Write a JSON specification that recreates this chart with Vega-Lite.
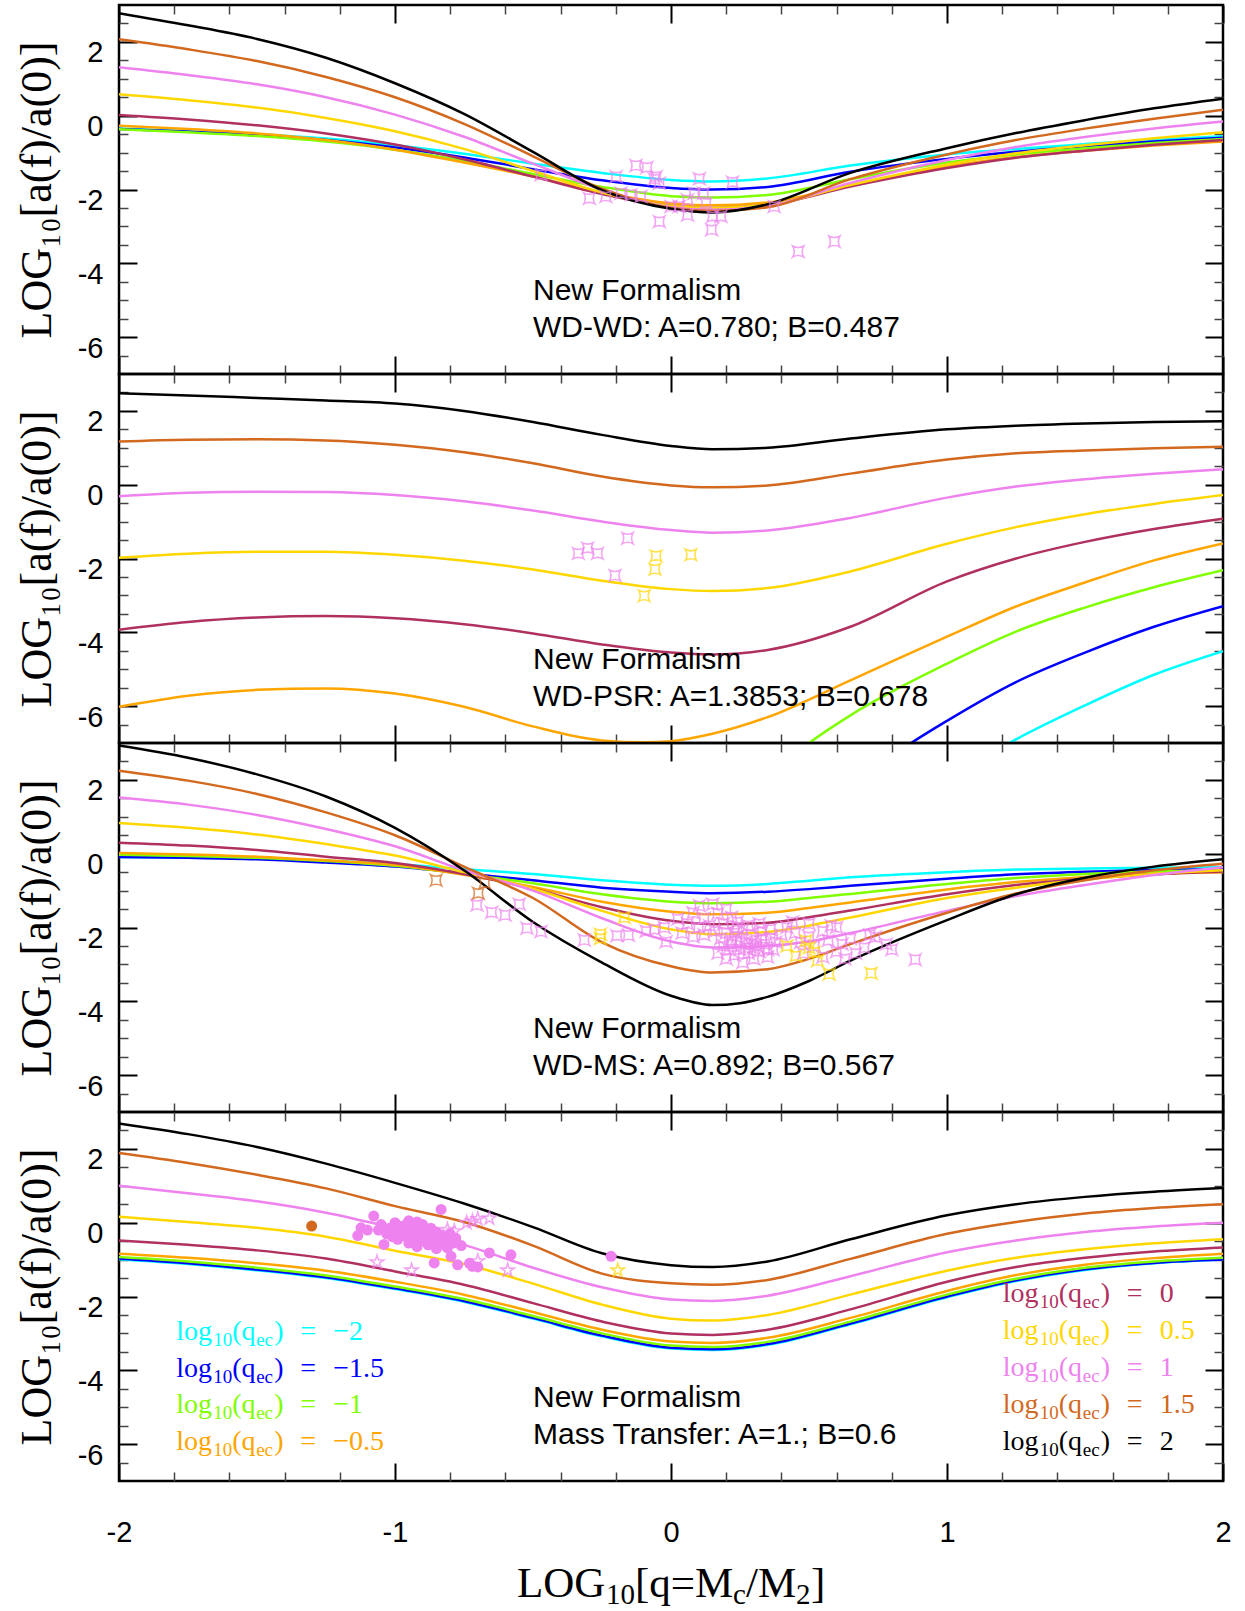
{
"$schema":"https://vega.github.io/schema/vega-lite/v6.json",
"padding":{"left":13,"top":2,"right":5,"bottom":0},
"background":"white",
"spacing":0,
"bounds":"flush",
"config":{"view":{"stroke":"black","strokeWidth":2.5},
"axis":{"grid":false,"domain":false,"labelFont":"Liberation Sans","labelFontSize":29,"labelColor":"black","tickColor":"black","titleFont":"Liberation Serif","titleFontSize":44,"titleFontWeight":"normal","titleColor":"black","labelFlush":false}},
"datasets":{
"frame":[{"x":-2,"y":-7},{"x":2,"y":3}],
"leg":[
{"k":"-2","v":"−2","lx":-1.793,"ly":-3.17},{"k":"-1.5","v":"−1.5","lx":-1.793,"ly":-4.17},{"k":"-1","v":"−1","lx":-1.793,"ly":-5.17},{"k":"-0.5","v":"−0.5","lx":-1.793,"ly":-6.17},
{"k":"0","v":"0","lx":1.202,"ly":-2.16},{"k":"0.5","v":"0.5","lx":1.202,"ly":-3.16},{"k":"1","v":"1","lx":1.202,"ly":-4.16},{"k":"1.5","v":"1.5","lx":1.202,"ly":-5.16},{"k":"2","v":"2","lx":1.202,"ly":-6.16}],
"curves":[
{"p":1,"k":"-2","x":-2,"y":-0.35},{"p":1,"k":"-2","x":-1.75,"y":-0.42},{"p":1,"k":"-2","x":-1.5,"y":-0.5},{"p":1,"k":"-2","x":-1.25,"y":-0.62},{"p":1,"k":"-2","x":-1,"y":-0.8},{"p":1,"k":"-2","x":-0.75,"y":-1.03},{"p":1,"k":"-2","x":-0.5,"y":-1.3},{"p":1,"k":"-2","x":-0.25,"y":-1.55},{"p":1,"k":"-2","x":0,"y":-1.74},{"p":1,"k":"-2","x":0.15,"y":-1.78},{"p":1,"k":"-2","x":0.35,"y":-1.7},{"p":1,"k":"-2","x":0.65,"y":-1.35},{"p":1,"k":"-2","x":1,"y":-1.05},{"p":1,"k":"-2","x":1.25,"y":-0.9},{"p":1,"k":"-2","x":1.5,"y":-0.77},{"p":1,"k":"-2","x":1.75,"y":-0.65},{"p":1,"k":"-2","x":2,"y":-0.56},
{"p":1,"k":"-1.5","x":-2,"y":-0.36},{"p":1,"k":"-1.5","x":-1.75,"y":-0.43},{"p":1,"k":"-1.5","x":-1.5,"y":-0.52},{"p":1,"k":"-1.5","x":-1.25,"y":-0.66},{"p":1,"k":"-1.5","x":-1,"y":-0.86},{"p":1,"k":"-1.5","x":-0.75,"y":-1.13},{"p":1,"k":"-1.5","x":-0.5,"y":-1.45},{"p":1,"k":"-1.5","x":-0.25,"y":-1.75},{"p":1,"k":"-1.5","x":0,"y":-1.96},{"p":1,"k":"-1.5","x":0.15,"y":-2.0},{"p":1,"k":"-1.5","x":0.35,"y":-1.93},{"p":1,"k":"-1.5","x":0.65,"y":-1.52},{"p":1,"k":"-1.5","x":1,"y":-1.17},{"p":1,"k":"-1.5","x":1.25,"y":-0.98},{"p":1,"k":"-1.5","x":1.5,"y":-0.83},{"p":1,"k":"-1.5","x":1.75,"y":-0.7},{"p":1,"k":"-1.5","x":2,"y":-0.6},
{"p":1,"k":"-1","x":-2,"y":-0.37},{"p":1,"k":"-1","x":-1.75,"y":-0.45},{"p":1,"k":"-1","x":-1.5,"y":-0.55},{"p":1,"k":"-1","x":-1.25,"y":-0.7},{"p":1,"k":"-1","x":-1,"y":-0.92},{"p":1,"k":"-1","x":-0.75,"y":-1.22},{"p":1,"k":"-1","x":-0.5,"y":-1.58},{"p":1,"k":"-1","x":-0.25,"y":-1.93},{"p":1,"k":"-1","x":0,"y":-2.18},{"p":1,"k":"-1","x":0.15,"y":-2.22},{"p":1,"k":"-1","x":0.35,"y":-2.15},{"p":1,"k":"-1","x":0.65,"y":-1.72},{"p":1,"k":"-1","x":1,"y":-1.27},{"p":1,"k":"-1","x":1.25,"y":-1.05},{"p":1,"k":"-1","x":1.5,"y":-0.88},{"p":1,"k":"-1","x":1.75,"y":-0.74},{"p":1,"k":"-1","x":2,"y":-0.63},
{"p":1,"k":"-0.5","x":-2,"y":-0.27},{"p":1,"k":"-0.5","x":-1.75,"y":-0.36},{"p":1,"k":"-0.5","x":-1.5,"y":-0.48},{"p":1,"k":"-0.5","x":-1.25,"y":-0.66},{"p":1,"k":"-0.5","x":-1,"y":-0.92},{"p":1,"k":"-0.5","x":-0.75,"y":-1.27},{"p":1,"k":"-0.5","x":-0.5,"y":-1.65},{"p":1,"k":"-0.5","x":-0.25,"y":-2.08},{"p":1,"k":"-0.5","x":0,"y":-2.38},{"p":1,"k":"-0.5","x":0.15,"y":-2.43},{"p":1,"k":"-0.5","x":0.35,"y":-2.35},{"p":1,"k":"-0.5","x":0.65,"y":-1.88},{"p":1,"k":"-0.5","x":1,"y":-1.38},{"p":1,"k":"-0.5","x":1.25,"y":-1.12},{"p":1,"k":"-0.5","x":1.5,"y":-0.95},{"p":1,"k":"-0.5","x":1.75,"y":-0.81},{"p":1,"k":"-0.5","x":2,"y":-0.7},
{"p":1,"k":"0","x":-2,"y":0.02},{"p":1,"k":"0","x":-1.75,"y":-0.1},{"p":1,"k":"0","x":-1.5,"y":-0.26},{"p":1,"k":"0","x":-1.25,"y":-0.48},{"p":1,"k":"0","x":-1,"y":-0.78},{"p":1,"k":"0","x":-0.75,"y":-1.18},{"p":1,"k":"0","x":-0.5,"y":-1.65},{"p":1,"k":"0","x":-0.25,"y":-2.12},{"p":1,"k":"0","x":0,"y":-2.45},{"p":1,"k":"0","x":0.15,"y":-2.5},{"p":1,"k":"0","x":0.35,"y":-2.42},{"p":1,"k":"0","x":0.65,"y":-1.92},{"p":1,"k":"0","x":1,"y":-1.42},{"p":1,"k":"0","x":1.25,"y":-1.14},{"p":1,"k":"0","x":1.5,"y":-0.95},{"p":1,"k":"0","x":1.75,"y":-0.79},{"p":1,"k":"0","x":2,"y":-0.66},
{"p":1,"k":"0.5","x":-2,"y":0.58},{"p":1,"k":"0.5","x":-1.75,"y":0.42},{"p":1,"k":"0.5","x":-1.5,"y":0.22},{"p":1,"k":"0.5","x":-1.25,"y":-0.06},{"p":1,"k":"0.5","x":-1,"y":-0.42},{"p":1,"k":"0.5","x":-0.75,"y":-0.9},{"p":1,"k":"0.5","x":-0.5,"y":-1.5},{"p":1,"k":"0.5","x":-0.25,"y":-2.08},{"p":1,"k":"0.5","x":0,"y":-2.45},{"p":1,"k":"0.5","x":0.15,"y":-2.5},{"p":1,"k":"0.5","x":0.35,"y":-2.42},{"p":1,"k":"0.5","x":0.65,"y":-1.88},{"p":1,"k":"0.5","x":1,"y":-1.33},{"p":1,"k":"0.5","x":1.25,"y":-1.02},{"p":1,"k":"0.5","x":1.5,"y":-0.8},{"p":1,"k":"0.5","x":1.75,"y":-0.61},{"p":1,"k":"0.5","x":2,"y":-0.45},
{"p":1,"k":"1","x":-2,"y":1.31},{"p":1,"k":"1","x":-1.75,"y":1.1},{"p":1,"k":"1","x":-1.5,"y":0.85},{"p":1,"k":"1","x":-1.25,"y":0.5},{"p":1,"k":"1","x":-1,"y":0.03},{"p":1,"k":"1","x":-0.75,"y":-0.57},{"p":1,"k":"1","x":-0.5,"y":-1.3},{"p":1,"k":"1","x":-0.25,"y":-2.0},{"p":1,"k":"1","x":0,"y":-2.48},{"p":1,"k":"1","x":0.15,"y":-2.55},{"p":1,"k":"1","x":0.35,"y":-2.45},{"p":1,"k":"1","x":0.65,"y":-1.82},{"p":1,"k":"1","x":1,"y":-1.2},{"p":1,"k":"1","x":1.25,"y":-0.85},{"p":1,"k":"1","x":1.5,"y":-0.58},{"p":1,"k":"1","x":1.75,"y":-0.35},{"p":1,"k":"1","x":2,"y":-0.16},
{"p":1,"k":"1.5","x":-2,"y":2.07},{"p":1,"k":"1.5","x":-1.75,"y":1.8},{"p":1,"k":"1.5","x":-1.5,"y":1.48},{"p":1,"k":"1.5","x":-1.25,"y":1.05},{"p":1,"k":"1.5","x":-1,"y":0.5},{"p":1,"k":"1.5","x":-0.75,"y":-0.22},{"p":1,"k":"1.5","x":-0.5,"y":-1.1},{"p":1,"k":"1.5","x":-0.25,"y":-1.98},{"p":1,"k":"1.5","x":0,"y":-2.5},{"p":1,"k":"1.5","x":0.15,"y":-2.58},{"p":1,"k":"1.5","x":0.35,"y":-2.48},{"p":1,"k":"1.5","x":0.65,"y":-1.72},{"p":1,"k":"1.5","x":1,"y":-1.05},{"p":1,"k":"1.5","x":1.25,"y":-0.66},{"p":1,"k":"1.5","x":1.5,"y":-0.35},{"p":1,"k":"1.5","x":1.75,"y":-0.08},{"p":1,"k":"1.5","x":2,"y":0.16},
{"p":1,"k":"2","x":-2,"y":2.78},{"p":1,"k":"2","x":-1.75,"y":2.45},{"p":1,"k":"2","x":-1.5,"y":2.08},{"p":1,"k":"2","x":-1.25,"y":1.57},{"p":1,"k":"2","x":-1,"y":0.88},{"p":1,"k":"2","x":-0.75,"y":0.05},{"p":1,"k":"2","x":-0.5,"y":-0.98},{"p":1,"k":"2","x":-0.25,"y":-2.02},{"p":1,"k":"2","x":0,"y":-2.52},{"p":1,"k":"2","x":0.15,"y":-2.62},{"p":1,"k":"2","x":0.35,"y":-2.4},{"p":1,"k":"2","x":0.65,"y":-1.55},{"p":1,"k":"2","x":1,"y":-0.88},{"p":1,"k":"2","x":1.25,"y":-0.47},{"p":1,"k":"2","x":1.5,"y":-0.12},{"p":1,"k":"2","x":1.75,"y":0.2},{"p":1,"k":"2","x":2,"y":0.46},

{"p":2,"k":"-2","x":1,"y":-8.0},{"p":2,"k":"-2","x":1.25,"y":-6.9},{"p":2,"k":"-2","x":1.5,"y":-5.98},{"p":2,"k":"-2","x":1.75,"y":-5.15},{"p":2,"k":"-2","x":2,"y":-4.51},
{"p":2,"k":"-1.5","x":0.65,"y":-8.2},{"p":2,"k":"-1.5","x":0.85,"y":-7.1},{"p":2,"k":"-1.5","x":1,"y":-6.4},{"p":2,"k":"-1.5","x":1.25,"y":-5.35},{"p":2,"k":"-1.5","x":1.5,"y":-4.55},{"p":2,"k":"-1.5","x":1.75,"y":-3.85},{"p":2,"k":"-1.5","x":2,"y":-3.29},
{"p":2,"k":"-1","x":0.35,"y":-7.9},{"p":2,"k":"-1","x":0.5,"y":-7.0},{"p":2,"k":"-1","x":0.65,"y":-6.25},{"p":2,"k":"-1","x":1,"y":-4.85},{"p":2,"k":"-1","x":1.25,"y":-3.98},{"p":2,"k":"-1","x":1.5,"y":-3.33},{"p":2,"k":"-1","x":1.75,"y":-2.78},{"p":2,"k":"-1","x":2,"y":-2.32},
{"p":2,"k":"-0.5","x":-2,"y":-6.02},{"p":2,"k":"-0.5","x":-1.75,"y":-5.72},{"p":2,"k":"-0.5","x":-1.5,"y":-5.56},{"p":2,"k":"-0.5","x":-1.25,"y":-5.52},{"p":2,"k":"-0.5","x":-1,"y":-5.66},{"p":2,"k":"-0.5","x":-0.75,"y":-6.02},{"p":2,"k":"-0.5","x":-0.5,"y":-6.55},{"p":2,"k":"-0.5","x":-0.25,"y":-6.93},{"p":2,"k":"-0.5","x":-0.1,"y":-6.98},{"p":2,"k":"-0.5","x":0,"y":-6.95},{"p":2,"k":"-0.5","x":0.15,"y":-6.75},{"p":2,"k":"-0.5","x":0.35,"y":-6.3},{"p":2,"k":"-0.5","x":0.65,"y":-5.3},{"p":2,"k":"-0.5","x":1,"y":-4.12},{"p":2,"k":"-0.5","x":1.25,"y":-3.3},{"p":2,"k":"-0.5","x":1.5,"y":-2.65},{"p":2,"k":"-0.5","x":1.75,"y":-2.05},{"p":2,"k":"-0.5","x":2,"y":-1.59},
{"p":2,"k":"0","x":-2,"y":-3.93},{"p":2,"k":"0","x":-1.75,"y":-3.72},{"p":2,"k":"0","x":-1.5,"y":-3.6},{"p":2,"k":"0","x":-1.25,"y":-3.56},{"p":2,"k":"0","x":-1,"y":-3.62},{"p":2,"k":"0","x":-0.75,"y":-3.78},{"p":2,"k":"0","x":-0.5,"y":-4.03},{"p":2,"k":"0","x":-0.25,"y":-4.33},{"p":2,"k":"0","x":0,"y":-4.55},{"p":2,"k":"0","x":0.15,"y":-4.6},{"p":2,"k":"0","x":0.35,"y":-4.48},{"p":2,"k":"0","x":0.65,"y":-3.85},{"p":2,"k":"0","x":1,"y":-2.62},{"p":2,"k":"0","x":1.25,"y":-2.0},{"p":2,"k":"0","x":1.5,"y":-1.55},{"p":2,"k":"0","x":1.75,"y":-1.2},{"p":2,"k":"0","x":2,"y":-0.92},
{"p":2,"k":"0.5","x":-2,"y":-1.98},{"p":2,"k":"0.5","x":-1.75,"y":-1.87},{"p":2,"k":"0.5","x":-1.5,"y":-1.82},{"p":2,"k":"0.5","x":-1.25,"y":-1.82},{"p":2,"k":"0.5","x":-1,"y":-1.9},{"p":2,"k":"0.5","x":-0.75,"y":-2.06},{"p":2,"k":"0.5","x":-0.5,"y":-2.3},{"p":2,"k":"0.5","x":-0.25,"y":-2.6},{"p":2,"k":"0.5","x":0,"y":-2.83},{"p":2,"k":"0.5","x":0.15,"y":-2.88},{"p":2,"k":"0.5","x":0.35,"y":-2.8},{"p":2,"k":"0.5","x":0.65,"y":-2.35},{"p":2,"k":"0.5","x":1,"y":-1.6},{"p":2,"k":"0.5","x":1.25,"y":-1.15},{"p":2,"k":"0.5","x":1.5,"y":-0.8},{"p":2,"k":"0.5","x":1.75,"y":-0.52},{"p":2,"k":"0.5","x":2,"y":-0.28},
{"p":2,"k":"1","x":-2,"y":-0.31},{"p":2,"k":"1","x":-1.75,"y":-0.22},{"p":2,"k":"1","x":-1.5,"y":-0.19},{"p":2,"k":"1","x":-1.25,"y":-0.2},{"p":2,"k":"1","x":-1,"y":-0.28},{"p":2,"k":"1","x":-0.75,"y":-0.45},{"p":2,"k":"1","x":-0.5,"y":-0.7},{"p":2,"k":"1","x":-0.25,"y":-1.0},{"p":2,"k":"1","x":0,"y":-1.23},{"p":2,"k":"1","x":0.15,"y":-1.3},{"p":2,"k":"1","x":0.35,"y":-1.24},{"p":2,"k":"1","x":0.65,"y":-0.9},{"p":2,"k":"1","x":1,"y":-0.35},{"p":2,"k":"1","x":1.25,"y":-0.05},{"p":2,"k":"1","x":1.5,"y":0.15},{"p":2,"k":"1","x":1.75,"y":0.3},{"p":2,"k":"1","x":2,"y":0.42},
{"p":2,"k":"1.5","x":-2,"y":1.17},{"p":2,"k":"1.5","x":-1.75,"y":1.22},{"p":2,"k":"1.5","x":-1.5,"y":1.23},{"p":2,"k":"1.5","x":-1.25,"y":1.2},{"p":2,"k":"1.5","x":-1,"y":1.08},{"p":2,"k":"1.5","x":-0.75,"y":0.88},{"p":2,"k":"1.5","x":-0.5,"y":0.58},{"p":2,"k":"1.5","x":-0.25,"y":0.22},{"p":2,"k":"1.5","x":0,"y":-0.02},{"p":2,"k":"1.5","x":0.15,"y":-0.07},{"p":2,"k":"1.5","x":0.35,"y":-0.02},{"p":2,"k":"1.5","x":0.65,"y":0.3},{"p":2,"k":"1.5","x":1,"y":0.68},{"p":2,"k":"1.5","x":1.25,"y":0.85},{"p":2,"k":"1.5","x":1.5,"y":0.93},{"p":2,"k":"1.5","x":1.75,"y":0.99},{"p":2,"k":"1.5","x":2,"y":1.03},
{"p":2,"k":"2","x":-2,"y":2.48},{"p":2,"k":"2","x":-1.75,"y":2.42},{"p":2,"k":"2","x":-1.5,"y":2.35},{"p":2,"k":"2","x":-1.25,"y":2.28},{"p":2,"k":"2","x":-1,"y":2.2},{"p":2,"k":"2","x":-0.75,"y":2.0},{"p":2,"k":"2","x":-0.5,"y":1.7},{"p":2,"k":"2","x":-0.25,"y":1.35},{"p":2,"k":"2","x":0,"y":1.05},{"p":2,"k":"2","x":0.15,"y":0.96},{"p":2,"k":"2","x":0.35,"y":1.0},{"p":2,"k":"2","x":0.65,"y":1.25},{"p":2,"k":"2","x":1,"y":1.5},{"p":2,"k":"2","x":1.25,"y":1.6},{"p":2,"k":"2","x":1.5,"y":1.66},{"p":2,"k":"2","x":1.75,"y":1.7},{"p":2,"k":"2","x":2,"y":1.72},

{"p":3,"k":"-2","x":-2,"y":-0.09},{"p":3,"k":"-2","x":-1.75,"y":-0.1},{"p":3,"k":"-2","x":-1.5,"y":-0.13},{"p":3,"k":"-2","x":-1.25,"y":-0.19},{"p":3,"k":"-2","x":-1,"y":-0.28},{"p":3,"k":"-2","x":-0.75,"y":-0.42},{"p":3,"k":"-2","x":-0.5,"y":-0.55},{"p":3,"k":"-2","x":-0.25,"y":-0.72},{"p":3,"k":"-2","x":0,"y":-0.84},{"p":3,"k":"-2","x":0.15,"y":-0.87},{"p":3,"k":"-2","x":0.35,"y":-0.82},{"p":3,"k":"-2","x":0.5,"y":-0.73},{"p":3,"k":"-2","x":0.65,"y":-0.64},{"p":3,"k":"-2","x":1,"y":-0.5},{"p":3,"k":"-2","x":1.25,"y":-0.43},{"p":3,"k":"-2","x":1.5,"y":-0.4},{"p":3,"k":"-2","x":1.75,"y":-0.38},{"p":3,"k":"-2","x":2,"y":-0.37},
{"p":3,"k":"-1.5","x":-2,"y":-0.09},{"p":3,"k":"-1.5","x":-1.75,"y":-0.11},{"p":3,"k":"-1.5","x":-1.5,"y":-0.15},{"p":3,"k":"-1.5","x":-1.25,"y":-0.24},{"p":3,"k":"-1.5","x":-1,"y":-0.35},{"p":3,"k":"-1.5","x":-0.75,"y":-0.53},{"p":3,"k":"-1.5","x":-0.5,"y":-0.72},{"p":3,"k":"-1.5","x":-0.25,"y":-0.92},{"p":3,"k":"-1.5","x":0,"y":-1.03},{"p":3,"k":"-1.5","x":0.15,"y":-1.07},{"p":3,"k":"-1.5","x":0.35,"y":-1.03},{"p":3,"k":"-1.5","x":0.5,"y":-0.96},{"p":3,"k":"-1.5","x":0.65,"y":-0.87},{"p":3,"k":"-1.5","x":1,"y":-0.68},{"p":3,"k":"-1.5","x":1.25,"y":-0.56},{"p":3,"k":"-1.5","x":1.5,"y":-0.49},{"p":3,"k":"-1.5","x":1.75,"y":-0.44},{"p":3,"k":"-1.5","x":2,"y":-0.42},
{"p":3,"k":"-1","x":-2,"y":-0.03},{"p":3,"k":"-1","x":-1.75,"y":-0.06},{"p":3,"k":"-1","x":-1.5,"y":-0.11},{"p":3,"k":"-1","x":-1.25,"y":-0.2},{"p":3,"k":"-1","x":-1,"y":-0.33},{"p":3,"k":"-1","x":-0.75,"y":-0.55},{"p":3,"k":"-1","x":-0.5,"y":-0.8},{"p":3,"k":"-1","x":-0.25,"y":-1.1},{"p":3,"k":"-1","x":0,"y":-1.3},{"p":3,"k":"-1","x":0.15,"y":-1.34},{"p":3,"k":"-1","x":0.35,"y":-1.3},{"p":3,"k":"-1","x":0.5,"y":-1.2},{"p":3,"k":"-1","x":0.65,"y":-1.09},{"p":3,"k":"-1","x":1,"y":-0.82},{"p":3,"k":"-1","x":1.25,"y":-0.66},{"p":3,"k":"-1","x":1.5,"y":-0.55},{"p":3,"k":"-1","x":1.75,"y":-0.48},{"p":3,"k":"-1","x":2,"y":-0.45},
{"p":3,"k":"-0.5","x":-2,"y":0.02},{"p":3,"k":"-0.5","x":-1.75,"y":-0.02},{"p":3,"k":"-0.5","x":-1.5,"y":-0.08},{"p":3,"k":"-0.5","x":-1.25,"y":-0.18},{"p":3,"k":"-0.5","x":-1,"y":-0.3},{"p":3,"k":"-0.5","x":-0.75,"y":-0.57},{"p":3,"k":"-0.5","x":-0.5,"y":-0.9},{"p":3,"k":"-0.5","x":-0.25,"y":-1.3},{"p":3,"k":"-0.5","x":0,"y":-1.57},{"p":3,"k":"-0.5","x":0.15,"y":-1.64},{"p":3,"k":"-0.5","x":0.35,"y":-1.6},{"p":3,"k":"-0.5","x":0.5,"y":-1.47},{"p":3,"k":"-0.5","x":0.65,"y":-1.32},{"p":3,"k":"-0.5","x":1,"y":-0.97},{"p":3,"k":"-0.5","x":1.25,"y":-0.77},{"p":3,"k":"-0.5","x":1.5,"y":-0.63},{"p":3,"k":"-0.5","x":1.75,"y":-0.54},{"p":3,"k":"-0.5","x":2,"y":-0.5},
{"p":3,"k":"0","x":-2,"y":0.3},{"p":3,"k":"0","x":-1.75,"y":0.22},{"p":3,"k":"0","x":-1.5,"y":0.1},{"p":3,"k":"0","x":-1.25,"y":-0.08},{"p":3,"k":"0","x":-1,"y":-0.25},{"p":3,"k":"0","x":-0.75,"y":-0.55},{"p":3,"k":"0","x":-0.5,"y":-0.95},{"p":3,"k":"0","x":-0.25,"y":-1.45},{"p":3,"k":"0","x":0,"y":-1.82},{"p":3,"k":"0","x":0.15,"y":-1.91},{"p":3,"k":"0","x":0.35,"y":-1.87},{"p":3,"k":"0","x":0.5,"y":-1.72},{"p":3,"k":"0","x":0.65,"y":-1.54},{"p":3,"k":"0","x":1,"y":-1.1},{"p":3,"k":"0","x":1.25,"y":-0.85},{"p":3,"k":"0","x":1.5,"y":-0.68},{"p":3,"k":"0","x":1.75,"y":-0.56},{"p":3,"k":"0","x":2,"y":-0.48},
{"p":3,"k":"0.5","x":-2,"y":0.83},{"p":3,"k":"0.5","x":-1.75,"y":0.7},{"p":3,"k":"0.5","x":-1.5,"y":0.52},{"p":3,"k":"0.5","x":-1.25,"y":0.26},{"p":3,"k":"0.5","x":-1,"y":-0.05},{"p":3,"k":"0.5","x":-0.75,"y":-0.5},{"p":3,"k":"0.5","x":-0.5,"y":-0.95},{"p":3,"k":"0.5","x":-0.25,"y":-1.55},{"p":3,"k":"0.5","x":0,"y":-2.05},{"p":3,"k":"0.5","x":0.15,"y":-2.18},{"p":3,"k":"0.5","x":0.35,"y":-2.12},{"p":3,"k":"0.5","x":0.5,"y":-1.95},{"p":3,"k":"0.5","x":0.65,"y":-1.73},{"p":3,"k":"0.5","x":1,"y":-1.2},{"p":3,"k":"0.5","x":1.25,"y":-0.92},{"p":3,"k":"0.5","x":1.5,"y":-0.7},{"p":3,"k":"0.5","x":1.75,"y":-0.55},{"p":3,"k":"0.5","x":2,"y":-0.45},
{"p":3,"k":"1","x":-2,"y":1.52},{"p":3,"k":"1","x":-1.75,"y":1.33},{"p":3,"k":"1","x":-1.5,"y":1.05},{"p":3,"k":"1","x":-1.25,"y":0.67},{"p":3,"k":"1","x":-1,"y":0.2},{"p":3,"k":"1","x":-0.75,"y":-0.45},{"p":3,"k":"1","x":-0.5,"y":-1.0},{"p":3,"k":"1","x":-0.25,"y":-1.75},{"p":3,"k":"1","x":0,"y":-2.38},{"p":3,"k":"1","x":0.15,"y":-2.54},{"p":3,"k":"1","x":0.35,"y":-2.5},{"p":3,"k":"1","x":0.5,"y":-2.38},{"p":3,"k":"1","x":0.65,"y":-2.15},{"p":3,"k":"1","x":1,"y":-1.55},{"p":3,"k":"1","x":1.25,"y":-1.15},{"p":3,"k":"1","x":1.5,"y":-0.85},{"p":3,"k":"1","x":1.75,"y":-0.58},{"p":3,"k":"1","x":2,"y":-0.37},
{"p":3,"k":"1.5","x":-2,"y":2.25},{"p":3,"k":"1.5","x":-1.75,"y":1.98},{"p":3,"k":"1.5","x":-1.5,"y":1.62},{"p":3,"k":"1.5","x":-1.25,"y":1.12},{"p":3,"k":"1.5","x":-1,"y":0.5},{"p":3,"k":"1.5","x":-0.75,"y":-0.35},{"p":3,"k":"1.5","x":-0.5,"y":-1.2},{"p":3,"k":"1.5","x":-0.25,"y":-2.4},{"p":3,"k":"1.5","x":0,"y":-3.05},{"p":3,"k":"1.5","x":0.15,"y":-3.22},{"p":3,"k":"1.5","x":0.35,"y":-3.13},{"p":3,"k":"1.5","x":0.5,"y":-2.85},{"p":3,"k":"1.5","x":0.65,"y":-2.45},{"p":3,"k":"1.5","x":1,"y":-1.6},{"p":3,"k":"1.5","x":1.25,"y":-1.08},{"p":3,"k":"1.5","x":1.5,"y":-0.72},{"p":3,"k":"1.5","x":1.75,"y":-0.45},{"p":3,"k":"1.5","x":2,"y":-0.27},
{"p":3,"k":"2","x":-2,"y":2.93},{"p":3,"k":"2","x":-1.75,"y":2.6},{"p":3,"k":"2","x":-1.5,"y":2.15},{"p":3,"k":"2","x":-1.25,"y":1.55},{"p":3,"k":"2","x":-1,"y":0.7},{"p":3,"k":"2","x":-0.75,"y":-0.45},{"p":3,"k":"2","x":-0.5,"y":-1.85},{"p":3,"k":"2","x":-0.25,"y":-2.95},{"p":3,"k":"2","x":0,"y":-3.85},{"p":3,"k":"2","x":0.15,"y":-4.1},{"p":3,"k":"2","x":0.25,"y":-4.05},{"p":3,"k":"2","x":0.35,"y":-3.88},{"p":3,"k":"2","x":0.5,"y":-3.45},{"p":3,"k":"2","x":0.65,"y":-2.9},{"p":3,"k":"2","x":1,"y":-1.8},{"p":3,"k":"2","x":1.25,"y":-1.1},{"p":3,"k":"2","x":1.5,"y":-0.65},{"p":3,"k":"2","x":1.75,"y":-0.35},{"p":3,"k":"2","x":2,"y":-0.15},

{"p":4,"k":"-2","x":-2,"y":-0.99},{"p":4,"k":"-2","x":-1.75,"y":-1.12},{"p":4,"k":"-2","x":-1.5,"y":-1.29},{"p":4,"k":"-2","x":-1.25,"y":-1.5},{"p":4,"k":"-2","x":-1,"y":-1.8},{"p":4,"k":"-2","x":-0.75,"y":-2.14},{"p":4,"k":"-2","x":-0.5,"y":-2.6},{"p":4,"k":"-2","x":-0.25,"y":-3.08},{"p":4,"k":"-2","x":0,"y":-3.41},{"p":4,"k":"-2","x":0.15,"y":-3.45},{"p":4,"k":"-2","x":0.35,"y":-3.31},{"p":4,"k":"-2","x":0.65,"y":-2.75},{"p":4,"k":"-2","x":1,"y":-2.02},{"p":4,"k":"-2","x":1.25,"y":-1.58},{"p":4,"k":"-2","x":1.5,"y":-1.28},{"p":4,"k":"-2","x":1.75,"y":-1.1},{"p":4,"k":"-2","x":2,"y":-1.0},
{"p":4,"k":"-1.5","x":-2,"y":-0.97},{"p":4,"k":"-1.5","x":-1.75,"y":-1.1},{"p":4,"k":"-1.5","x":-1.5,"y":-1.27},{"p":4,"k":"-1.5","x":-1.25,"y":-1.48},{"p":4,"k":"-1.5","x":-1,"y":-1.78},{"p":4,"k":"-1.5","x":-0.75,"y":-2.12},{"p":4,"k":"-1.5","x":-0.5,"y":-2.58},{"p":4,"k":"-1.5","x":-0.25,"y":-3.06},{"p":4,"k":"-1.5","x":0,"y":-3.39},{"p":4,"k":"-1.5","x":0.15,"y":-3.43},{"p":4,"k":"-1.5","x":0.35,"y":-3.29},{"p":4,"k":"-1.5","x":0.65,"y":-2.73},{"p":4,"k":"-1.5","x":1,"y":-2.0},{"p":4,"k":"-1.5","x":1.25,"y":-1.56},{"p":4,"k":"-1.5","x":1.5,"y":-1.26},{"p":4,"k":"-1.5","x":1.75,"y":-1.09},{"p":4,"k":"-1.5","x":2,"y":-1.0},
{"p":4,"k":"-1","x":-2,"y":-0.93},{"p":4,"k":"-1","x":-1.75,"y":-1.05},{"p":4,"k":"-1","x":-1.5,"y":-1.22},{"p":4,"k":"-1","x":-1.25,"y":-1.43},{"p":4,"k":"-1","x":-1,"y":-1.73},{"p":4,"k":"-1","x":-0.75,"y":-2.07},{"p":4,"k":"-1","x":-0.5,"y":-2.53},{"p":4,"k":"-1","x":-0.25,"y":-3.0},{"p":4,"k":"-1","x":0,"y":-3.33},{"p":4,"k":"-1","x":0.15,"y":-3.37},{"p":4,"k":"-1","x":0.35,"y":-3.23},{"p":4,"k":"-1","x":0.65,"y":-2.68},{"p":4,"k":"-1","x":1,"y":-1.95},{"p":4,"k":"-1","x":1.25,"y":-1.52},{"p":4,"k":"-1","x":1.5,"y":-1.22},{"p":4,"k":"-1","x":1.75,"y":-1.05},{"p":4,"k":"-1","x":2,"y":-0.95},
{"p":4,"k":"-0.5","x":-2,"y":-0.84},{"p":4,"k":"-0.5","x":-1.75,"y":-0.95},{"p":4,"k":"-0.5","x":-1.5,"y":-1.1},{"p":4,"k":"-0.5","x":-1.25,"y":-1.3},{"p":4,"k":"-0.5","x":-1,"y":-1.6},{"p":4,"k":"-0.5","x":-0.75,"y":-1.95},{"p":4,"k":"-0.5","x":-0.5,"y":-2.42},{"p":4,"k":"-0.5","x":-0.25,"y":-2.9},{"p":4,"k":"-0.5","x":0,"y":-3.22},{"p":4,"k":"-0.5","x":0.15,"y":-3.26},{"p":4,"k":"-0.5","x":0.35,"y":-3.12},{"p":4,"k":"-0.5","x":0.65,"y":-2.58},{"p":4,"k":"-0.5","x":1,"y":-1.85},{"p":4,"k":"-0.5","x":1.25,"y":-1.42},{"p":4,"k":"-0.5","x":1.5,"y":-1.14},{"p":4,"k":"-0.5","x":1.75,"y":-0.96},{"p":4,"k":"-0.5","x":2,"y":-0.84},
{"p":4,"k":"0","x":-2,"y":-0.48},{"p":4,"k":"0","x":-1.75,"y":-0.6},{"p":4,"k":"0","x":-1.5,"y":-0.75},{"p":4,"k":"0","x":-1.25,"y":-0.97},{"p":4,"k":"0","x":-1,"y":-1.32},{"p":4,"k":"0","x":-0.75,"y":-1.68},{"p":4,"k":"0","x":-0.5,"y":-2.18},{"p":4,"k":"0","x":-0.25,"y":-2.68},{"p":4,"k":"0","x":0,"y":-3.0},{"p":4,"k":"0","x":0.15,"y":-3.04},{"p":4,"k":"0","x":0.35,"y":-2.9},{"p":4,"k":"0","x":0.65,"y":-2.35},{"p":4,"k":"0","x":1,"y":-1.6},{"p":4,"k":"0","x":1.25,"y":-1.2},{"p":4,"k":"0","x":1.5,"y":-0.95},{"p":4,"k":"0","x":1.75,"y":-0.78},{"p":4,"k":"0","x":2,"y":-0.67},
{"p":4,"k":"0.5","x":-2,"y":0.16},{"p":4,"k":"0.5","x":-1.75,"y":0.02},{"p":4,"k":"0.5","x":-1.5,"y":-0.14},{"p":4,"k":"0.5","x":-1.25,"y":-0.38},{"p":4,"k":"0.5","x":-1,"y":-0.76},{"p":4,"k":"0.5","x":-0.75,"y":-1.12},{"p":4,"k":"0.5","x":-0.5,"y":-1.65},{"p":4,"k":"0.5","x":-0.25,"y":-2.22},{"p":4,"k":"0.5","x":0,"y":-2.6},{"p":4,"k":"0.5","x":0.15,"y":-2.65},{"p":4,"k":"0.5","x":0.35,"y":-2.5},{"p":4,"k":"0.5","x":0.65,"y":-1.95},{"p":4,"k":"0.5","x":1,"y":-1.3},{"p":4,"k":"0.5","x":1.25,"y":-0.95},{"p":4,"k":"0.5","x":1.5,"y":-0.72},{"p":4,"k":"0.5","x":1.75,"y":-0.56},{"p":4,"k":"0.5","x":2,"y":-0.45},
{"p":4,"k":"1","x":-2,"y":1.0},{"p":4,"k":"1","x":-1.75,"y":0.8},{"p":4,"k":"1","x":-1.5,"y":0.58},{"p":4,"k":"1","x":-1.25,"y":0.27},{"p":4,"k":"1","x":-1,"y":-0.15},{"p":4,"k":"1","x":-0.75,"y":-0.6},{"p":4,"k":"1","x":-0.5,"y":-1.22},{"p":4,"k":"1","x":-0.25,"y":-1.75},{"p":4,"k":"1","x":0,"y":-2.08},{"p":4,"k":"1","x":0.15,"y":-2.12},{"p":4,"k":"1","x":0.35,"y":-1.98},{"p":4,"k":"1","x":0.65,"y":-1.45},{"p":4,"k":"1","x":1,"y":-0.8},{"p":4,"k":"1","x":1.25,"y":-0.48},{"p":4,"k":"1","x":1.5,"y":-0.25},{"p":4,"k":"1","x":1.75,"y":-0.1},{"p":4,"k":"1","x":2,"y":0.0},
{"p":4,"k":"1.5","x":-2,"y":1.89},{"p":4,"k":"1.5","x":-1.75,"y":1.62},{"p":4,"k":"1.5","x":-1.5,"y":1.3},{"p":4,"k":"1.5","x":-1.25,"y":0.93},{"p":4,"k":"1.5","x":-1,"y":0.45},{"p":4,"k":"1.5","x":-0.75,"y":0.02},{"p":4,"k":"1.5","x":-0.5,"y":-0.62},{"p":4,"k":"1.5","x":-0.25,"y":-1.38},{"p":4,"k":"1.5","x":0,"y":-1.64},{"p":4,"k":"1.5","x":0.15,"y":-1.68},{"p":4,"k":"1.5","x":0.35,"y":-1.55},{"p":4,"k":"1.5","x":0.65,"y":-0.98},{"p":4,"k":"1.5","x":1,"y":-0.3},{"p":4,"k":"1.5","x":1.25,"y":0.02},{"p":4,"k":"1.5","x":1.5,"y":0.25},{"p":4,"k":"1.5","x":1.75,"y":0.4},{"p":4,"k":"1.5","x":2,"y":0.5},
{"p":4,"k":"2","x":-2,"y":2.69},{"p":4,"k":"2","x":-1.75,"y":2.4},{"p":4,"k":"2","x":-1.5,"y":2.05},{"p":4,"k":"2","x":-1.25,"y":1.6},{"p":4,"k":"2","x":-1,"y":1.08},{"p":4,"k":"2","x":-0.75,"y":0.52},{"p":4,"k":"2","x":-0.5,"y":-0.12},{"p":4,"k":"2","x":-0.25,"y":-0.83},{"p":4,"k":"2","x":0,"y":-1.15},{"p":4,"k":"2","x":0.15,"y":-1.2},{"p":4,"k":"2","x":0.35,"y":-1.05},{"p":4,"k":"2","x":0.65,"y":-0.45},{"p":4,"k":"2","x":1,"y":0.2},{"p":4,"k":"2","x":1.25,"y":0.5},{"p":4,"k":"2","x":1.5,"y":0.7},{"p":4,"k":"2","x":1.75,"y":0.84},{"p":4,"k":"2","x":2,"y":0.94}
],
"pts":[
{"p":1,"t":"a","c":"1","x":-0.127,"y":-1.35},{"p":1,"t":"a","c":"1","x":-0.087,"y":-1.4},{"p":1,"t":"a","c":"1","x":-0.199,"y":-1.65},{"p":1,"t":"a","c":"1","x":-0.054,"y":-1.65},{"p":1,"t":"a","c":"1","x":-0.042,"y":-1.83},{"p":1,"t":"a","c":"1","x":-0.06,"y":-1.72},{"p":1,"t":"a","c":"1","x":0.103,"y":-1.71},{"p":1,"t":"a","c":"1","x":0.223,"y":-1.8},{"p":1,"t":"a","c":"1","x":-0.296,"y":-2.24},{"p":1,"t":"a","c":"1","x":-0.236,"y":-2.19},{"p":1,"t":"a","c":"1","x":-0.181,"y":-2.1},{"p":1,"t":"a","c":"1","x":-0.145,"y":-2.14},{"p":1,"t":"a","c":"1","x":-0.109,"y":-2.19},{"p":1,"t":"a","c":"1","x":0.06,"y":-2.28},{"p":1,"t":"a","c":"1","x":0.084,"y":-2.1},{"p":1,"t":"a","c":"1","x":0.118,"y":-2.1},{"p":1,"t":"a","c":"1","x":0.127,"y":-2.37},{"p":1,"t":"a","c":"1","x":0.0,"y":-2.46},{"p":1,"t":"a","c":"1","x":0.03,"y":-2.46},{"p":1,"t":"a","c":"1","x":0.06,"y":-2.69},{"p":1,"t":"a","c":"1","x":-0.042,"y":-2.87},{"p":1,"t":"a","c":"1","x":0.151,"y":-2.73},{"p":1,"t":"a","c":"1","x":0.181,"y":-2.73},{"p":1,"t":"a","c":"1","x":0.147,"y":-3.09},{"p":1,"t":"a","c":"1","x":0.374,"y":-2.46},{"p":1,"t":"a","c":"1","x":0.461,"y":-3.68},{"p":1,"t":"a","c":"1","x":0.592,"y":-3.41},{"p":1,"t":"a","c":"1","x":-0.471,"y":-1.6},
{"p":2,"t":"a","c":"1","x":-0.157,"y":-1.45},{"p":2,"t":"a","c":"1","x":-0.336,"y":-1.86},{"p":2,"t":"a","c":"1","x":-0.302,"y":-1.72},{"p":2,"t":"a","c":"1","x":-0.266,"y":-1.86},{"p":2,"t":"a","c":"1","x":-0.203,"y":-2.46},
{"p":2,"t":"a","c":"0.5","x":-0.054,"y":-1.93},{"p":2,"t":"a","c":"0.5","x":0.072,"y":-1.9},{"p":2,"t":"a","c":"0.5","x":-0.058,"y":-2.29},{"p":2,"t":"a","c":"0.5","x":-0.097,"y":-3.01},
{"p":3,"t":"a","c":"1","x":-0.703,"y":-1.39},{"p":3,"t":"a","c":"1","x":-0.65,"y":-1.59},{"p":3,"t":"a","c":"1","x":-0.601,"y":-1.66},{"p":3,"t":"a","c":"1","x":-0.55,"y":-1.37},{"p":3,"t":"a","c":"1","x":-0.522,"y":-2.02},{"p":3,"t":"a","c":"1","x":-0.471,"y":-2.11},{"p":3,"t":"a","c":"1","x":-0.314,"y":-2.34},{"p":3,"t":"a","c":"1","x":-0.196,"y":-2.22},{"p":3,"t":"a","c":"1","x":-0.154,"y":-2.21},{"p":3,"t":"a","c":"1","x":-0.024,"y":-2.0},{"p":3,"t":"a","c":"1","x":-0.018,"y":-2.39},{"p":3,"t":"a","c":"1","x":0.025,"y":-1.77},{"p":3,"t":"a","c":"1","x":-0.06,"y":-2.05},{"p":3,"t":"a","c":"1","x":-0.09,"y":-2.1},
{"p":3,"t":"a","c":"1","x":0.103,"y":-1.41},{"p":3,"t":"a","c":"1","x":0.151,"y":-1.37},{"p":3,"t":"a","c":"1","x":0.08,"y":-1.6},{"p":3,"t":"a","c":"1","x":0.12,"y":-1.75},{"p":3,"t":"a","c":"1","x":0.17,"y":-1.62},{"p":3,"t":"a","c":"1","x":0.2,"y":-1.5},{"p":3,"t":"a","c":"1","x":0.22,"y":-1.72},{"p":3,"t":"a","c":"1","x":0.06,"y":-1.9},{"p":3,"t":"a","c":"1","x":0.1,"y":-2.0},{"p":3,"t":"a","c":"1","x":0.14,"y":-1.95},{"p":3,"t":"a","c":"1","x":0.04,"y":-2.15},{"p":3,"t":"a","c":"1","x":0.08,"y":-2.25},{"p":3,"t":"a","c":"1","x":0.12,"y":-2.2},{"p":3,"t":"a","c":"1","x":0.16,"y":-2.1},{"p":3,"t":"a","c":"1","x":0.19,"y":-1.9},{"p":3,"t":"a","c":"1","x":0.24,"y":-1.85},
{"p":3,"t":"a","c":"1","x":0.18,"y":-2.3},{"p":3,"t":"a","c":"1","x":0.2,"y":-2.15},{"p":3,"t":"a","c":"1","x":0.22,"y":-2.45},{"p":3,"t":"a","c":"1","x":0.24,"y":-2.25},{"p":3,"t":"a","c":"1","x":0.26,"y":-2.05},{"p":3,"t":"a","c":"1","x":0.27,"y":-2.4},{"p":3,"t":"a","c":"1","x":0.29,"y":-2.2},{"p":3,"t":"a","c":"1","x":0.3,"y":-2.55},{"p":3,"t":"a","c":"1","x":0.31,"y":-2.35},{"p":3,"t":"a","c":"1","x":0.33,"y":-2.1},{"p":3,"t":"a","c":"1","x":0.34,"y":-2.45},{"p":3,"t":"a","c":"1","x":0.36,"y":-2.3},{"p":3,"t":"a","c":"1","x":0.21,"y":-2.6},{"p":3,"t":"a","c":"1","x":0.23,"y":-2.75},{"p":3,"t":"a","c":"1","x":0.25,"y":-2.6},{"p":3,"t":"a","c":"1","x":0.28,"y":-2.7},{"p":3,"t":"a","c":"1","x":0.3,"y":-2.85},{"p":3,"t":"a","c":"1","x":0.32,"y":-2.65},{"p":3,"t":"a","c":"1","x":0.35,"y":-2.8},{"p":3,"t":"a","c":"1","x":0.37,"y":-2.6},{"p":3,"t":"a","c":"1","x":0.26,"y":-2.95},{"p":3,"t":"a","c":"1","x":0.19,"y":-2.5},{"p":3,"t":"a","c":"1","x":0.17,"y":-2.7},{"p":3,"t":"a","c":"1","x":0.2,"y":-2.85},{"p":3,"t":"a","c":"1","x":0.24,"y":-2.0},{"p":3,"t":"a","c":"1","x":0.28,"y":-1.95},{"p":3,"t":"a","c":"1","x":0.32,"y":-1.9},{"p":3,"t":"a","c":"1","x":0.36,"y":-2.05},{"p":3,"t":"a","c":"1","x":0.38,"y":-2.4},{"p":3,"t":"a","c":"1","x":0.4,"y":-2.2},{"p":3,"t":"a","c":"1","x":0.22,"y":-2.35},{"p":3,"t":"a","c":"1","x":0.27,"y":-2.55},{"p":3,"t":"a","c":"1","x":0.31,"y":-2.5},{"p":3,"t":"a","c":"1","x":0.25,"y":-2.35},{"p":3,"t":"a","c":"1","x":0.29,"y":-2.45},{"p":3,"t":"a","c":"1","x":0.33,"y":-2.3},{"p":3,"t":"a","c":"1","x":0.23,"y":-2.15},{"p":3,"t":"a","c":"1","x":0.35,"y":-2.6},
{"p":3,"t":"a","c":"1","x":0.42,"y":-2.0},{"p":3,"t":"a","c":"1","x":0.45,"y":-2.15},{"p":3,"t":"a","c":"1","x":0.47,"y":-2.4},{"p":3,"t":"a","c":"1","x":0.5,"y":-2.25},{"p":3,"t":"a","c":"1","x":0.52,"y":-2.5},{"p":3,"t":"a","c":"1","x":0.55,"y":-2.1},{"p":3,"t":"a","c":"1","x":0.57,"y":-2.35},{"p":3,"t":"a","c":"1","x":0.6,"y":-2.0},{"p":3,"t":"a","c":"1","x":0.62,"y":-2.45},{"p":3,"t":"a","c":"1","x":0.65,"y":-2.3},{"p":3,"t":"a","c":"1","x":0.48,"y":-2.7},{"p":3,"t":"a","c":"1","x":0.55,"y":-2.8},{"p":3,"t":"a","c":"1","x":0.6,"y":-2.65},{"p":3,"t":"a","c":"1","x":0.63,"y":-2.85},{"p":3,"t":"a","c":"1","x":0.67,"y":-2.7},{"p":3,"t":"a","c":"1","x":0.7,"y":-2.55},{"p":3,"t":"a","c":"1","x":0.72,"y":-2.2},{"p":3,"t":"a","c":"1","x":0.74,"y":-2.26},{"p":3,"t":"a","c":"1","x":0.78,"y":-2.45},{"p":3,"t":"a","c":"1","x":0.8,"y":-2.6},{"p":3,"t":"a","c":"1","x":0.885,"y":-2.87},{"p":3,"t":"a","c":"1","x":0.44,"y":-1.85},{"p":3,"t":"a","c":"1","x":0.5,"y":-1.9},{"p":3,"t":"a","c":"1","x":0.58,"y":-1.95},
{"p":3,"t":"a","c":"0.5","x":-0.169,"y":-1.73},{"p":3,"t":"a","c":"0.5","x":-0.256,"y":-2.18},{"p":3,"t":"a","c":"0.5","x":-0.256,"y":-2.3},{"p":3,"t":"a","c":"0.5","x":0.489,"y":-2.36},{"p":3,"t":"a","c":"0.5","x":0.453,"y":-2.77},{"p":3,"t":"a","c":"0.5","x":0.519,"y":-2.67},{"p":3,"t":"a","c":"0.5","x":0.531,"y":-2.9},{"p":3,"t":"a","c":"0.5","x":0.573,"y":-3.26},{"p":3,"t":"a","c":"0.5","x":0.725,"y":-3.24},{"p":3,"t":"a","c":"0.5","x":0.42,"y":-2.5},{"p":3,"t":"a","c":"0.5","x":0.5,"y":-2.55},
{"p":3,"t":"a","c":"1.5","x":-0.851,"y":-0.72},{"p":3,"t":"a","c":"1.5","x":-0.698,"y":-1.07},{"p":3,"t":"a","c":"1.5","x":-0.675,"y":-0.79},
{"p":4,"t":"c","c":"1.5","x":-1.302,"y":-0.09},
{"p":4,"t":"c","c":"1","x":-1.077,"y":0.18},{"p":4,"t":"c","c":"1","x":-1.123,"y":-0.14},{"p":4,"t":"c","c":"1","x":-1.135,"y":-0.35},{"p":4,"t":"c","c":"1","x":-1.1,"y":-0.2},{"p":4,"t":"c","c":"1","x":-0.833,"y":0.36},{"p":4,"t":"c","c":"1","x":-1.04,"y":-0.59},{"p":4,"t":"c","c":"1","x":-0.858,"y":-1.09},{"p":4,"t":"c","c":"1","x":-0.797,"y":-0.91},{"p":4,"t":"c","c":"1","x":-0.773,"y":-1.14},{"p":4,"t":"c","c":"1","x":-0.72,"y":-1.18},{"p":4,"t":"c","c":"1","x":-0.7,"y":-1.2},{"p":4,"t":"c","c":"1","x":-0.658,"y":-0.82},{"p":4,"t":"c","c":"1","x":-0.58,"y":-0.87},{"p":4,"t":"c","c":"1","x":-0.217,"y":-0.91},{"p":4,"t":"c","c":"1","x":-0.73,"y":-1.1},
{"p":4,"t":"c","c":"1","x":-1.05,"y":-0.05},{"p":4,"t":"c","c":"1","x":-1.02,"y":-0.15},{"p":4,"t":"c","c":"1","x":-1.0,"y":0.0},{"p":4,"t":"c","c":"1","x":-0.98,"y":-0.1},{"p":4,"t":"c","c":"1","x":-0.96,"y":-0.2},{"p":4,"t":"c","c":"1","x":-0.95,"y":0.05},{"p":4,"t":"c","c":"1","x":-0.93,"y":-0.12},{"p":4,"t":"c","c":"1","x":-0.92,"y":-0.28},{"p":4,"t":"c","c":"1","x":-0.9,"y":-0.05},{"p":4,"t":"c","c":"1","x":-0.89,"y":-0.2},{"p":4,"t":"c","c":"1","x":-0.88,"y":-0.35},{"p":4,"t":"c","c":"1","x":-0.87,"y":-0.15},{"p":4,"t":"c","c":"1","x":-0.86,"y":-0.45},{"p":4,"t":"c","c":"1","x":-0.85,"y":-0.25},{"p":4,"t":"c","c":"1","x":-0.84,"y":-0.55},{"p":4,"t":"c","c":"1","x":-0.83,"y":-0.35},{"p":4,"t":"c","c":"1","x":-0.82,"y":-0.6},{"p":4,"t":"c","c":"1","x":-0.81,"y":-0.45},{"p":4,"t":"c","c":"1","x":-0.8,"y":-0.3},{"p":4,"t":"c","c":"1","x":-0.79,"y":-0.55},{"p":4,"t":"c","c":"1","x":-1.03,"y":-0.3},{"p":4,"t":"c","c":"1","x":-1.0,"y":-0.25},{"p":4,"t":"c","c":"1","x":-0.97,"y":-0.35},{"p":4,"t":"c","c":"1","x":-0.94,"y":-0.4},{"p":4,"t":"c","c":"1","x":-0.91,"y":-0.5},{"p":4,"t":"c","c":"1","x":-0.88,"y":-0.6},{"p":4,"t":"c","c":"1","x":-0.85,"y":-0.7},{"p":4,"t":"c","c":"1","x":-0.99,"y":-0.45},{"p":4,"t":"c","c":"1","x":-0.96,"y":-0.05},{"p":4,"t":"c","c":"1","x":-0.92,"y":0.02},{"p":4,"t":"c","c":"1","x":-1.06,"y":-0.2},{"p":4,"t":"c","c":"1","x":-1.01,"y":-0.38},{"p":4,"t":"c","c":"1","x":-0.9,"y":-0.38},{"p":4,"t":"c","c":"1","x":-0.87,"y":-0.52},{"p":4,"t":"c","c":"1","x":-0.84,"y":-0.4},{"p":4,"t":"c","c":"1","x":-0.81,"y":-0.68},{"p":4,"t":"c","c":"1","x":-0.78,"y":-0.42},{"p":4,"t":"c","c":"1","x":-0.76,"y":-0.62},{"p":4,"t":"c","c":"1","x":-0.95,"y":-0.55},{"p":4,"t":"c","c":"1","x":-0.92,"y":-0.65},{"p":4,"t":"c","c":"1","x":-0.975,"y":-0.2},{"p":4,"t":"c","c":"1","x":-0.935,"y":-0.3},{"p":4,"t":"c","c":"1","x":-0.9,"y":-0.15},{"p":4,"t":"c","c":"1","x":-0.86,"y":-0.3},{"p":4,"t":"c","c":"1","x":-0.83,"y":-0.5},
{"p":4,"t":"s","c":"1","x":-1.065,"y":-1.07},{"p":4,"t":"s","c":"1","x":-0.94,"y":-1.29},{"p":4,"t":"s","c":"1","x":-0.81,"y":-0.19},{"p":4,"t":"s","c":"1","x":-0.785,"y":-0.23},{"p":4,"t":"s","c":"1","x":-0.719,"y":0.04},{"p":4,"t":"s","c":"1","x":-0.7,"y":0.1},{"p":4,"t":"s","c":"1","x":-0.658,"y":0.12},{"p":4,"t":"s","c":"1","x":-0.7,"y":-1.04},{"p":4,"t":"s","c":"1","x":-0.592,"y":-1.29},{"p":4,"t":"s","c":"1","x":-0.74,"y":0.0},
{"p":4,"t":"s","c":"0.5","x":-0.193,"y":-1.29}
]
},
"vconcat":[
{"width":1104,"height":369,"resolve":{"axis":{"x":"independent","y":"independent"}},
"layer":[
{"data":{"name":"curves"},"transform":[{"filter":"datum.p==1"}],"mark":{"type":"line","interpolate":"monotone","strokeWidth":2.5,"clip":true},
"encoding":{"x":{"field":"x","type":"quantitative","scale":{"domain":[-2,2],"nice":false,"zero":false},"axis":null},
"y":{"field":"y","type":"quantitative","scale":{"domain":[-7,3],"nice":false,"zero":false},"axis":{"orient":"left","values":[-6,-4,-2,0,2],"ticks":false,"labelPadding":16,"labelOffset":11,"labelExpr":"datum.value + ''","title":"LOG₁₀[a(f)/a(0)]","titlePadding":18}},
"color":{"field":"k","type":"nominal","scale":{"domain":["-2","-1.5","-1","-0.5","0","0.5","1","1.5","2"],"range":["#00ffff","#0000ff","#7fff00","#ffa500","#b03060","#ffd700","#ee82ee","#d2691e","#000000"]},"legend":null}}},
{"data":{"name":"frame"},"mark":{"type":"point","opacity":0,"size":0,"strokeWidth":0},"encoding":{"x":{"field":"x","type":"quantitative","scale":{"domain":[-2,2],"nice":false},"axis":{"orient":"bottom","values":[-2,-1,0,1,2],"labels":false,"tickSize":-18,"tickWidth":2,"title":null}},"y":{"field":"y","type":"quantitative","scale":{"domain":[-7,3],"nice":false},"axis":{"orient":"left","values":[-6,-4,-2,0,2],"labels":false,"tickSize":-18,"tickWidth":2,"title":null}}}},
{"data":{"name":"frame"},"mark":{"type":"point","opacity":0,"size":0,"strokeWidth":0},"encoding":{"x":{"field":"x","type":"quantitative","scale":{"domain":[-2,2],"nice":false},"axis":{"orient":"bottom","values":[-1.8,-1.6,-1.4,-1.2,-0.8,-0.6,-0.4,-0.2,0.2,0.4,0.6,0.8,1.2,1.4,1.6,1.8],"labels":false,"tickSize":-9,"tickWidth":1.5,"tickColor":"#444","title":null}},"y":{"field":"y","type":"quantitative","scale":{"domain":[-7,3],"nice":false},"axis":{"orient":"left","values":[-6.5,-5.5,-5,-4.5,-3.5,-3,-2.5,-1.5,-1,-0.5,0.5,1,1.5,2.5],"labels":false,"tickSize":-9,"tickWidth":1.5,"tickColor":"#444","title":null}}}},
{"data":{"name":"frame"},"mark":{"type":"point","opacity":0,"size":0,"strokeWidth":0},"encoding":{"x":{"field":"x","type":"quantitative","scale":{"domain":[-2,2],"nice":false},"axis":{"orient":"top","values":[-2,-1,0,1,2],"labels":false,"tickSize":-18,"tickWidth":2,"title":null}},"y":{"field":"y","type":"quantitative","scale":{"domain":[-7,3],"nice":false},"axis":{"orient":"right","values":[-6,-4,-2,0,2],"labels":false,"tickSize":-18,"tickWidth":2,"title":null}}}},
{"data":{"name":"frame"},"mark":{"type":"point","opacity":0,"size":0,"strokeWidth":0},"encoding":{"x":{"field":"x","type":"quantitative","scale":{"domain":[-2,2],"nice":false},"axis":{"orient":"top","values":[-1.8,-1.6,-1.4,-1.2,-0.8,-0.6,-0.4,-0.2,0.2,0.4,0.6,0.8,1.2,1.4,1.6,1.8],"labels":false,"tickSize":-9,"tickWidth":1.5,"tickColor":"#444","title":null}},"y":{"field":"y","type":"quantitative","scale":{"domain":[-7,3],"nice":false},"axis":{"orient":"right","values":[-6.5,-5.5,-5,-4.5,-3.5,-3,-2.5,-1.5,-1,-0.5,0.5,1,1.5,2.5],"labels":false,"tickSize":-9,"tickWidth":1.5,"tickColor":"#444","title":null}}}},
{"data":{"name":"pts"},"transform":[{"filter":"datum.p==1 && datum.t=='a'"}],"mark":{"type":"point","shape":"M-1,-1Q0,-0.45,1,-1Q0.45,0,1,1Q0,0.45,-1,1Q-0.45,0,-1,-1Z","filled":false,"strokeWidth":1.6,"size":121},
"encoding":{"x":{"field":"x","type":"quantitative","scale":{"domain":[-2,2],"nice":false},"axis":null},"y":{"field":"y","type":"quantitative","scale":{"domain":[-7,3],"nice":false},"axis":null},"color":{"field":"c","type":"nominal","scale":{"domain":["-2","-1.5","-1","-0.5","0","0.5","1","1.5","2"],"range":["#00ffff","#0000ff","#7fff00","#ffa500","#b03060","#ffd700","#ee82ee","#d2691e","#000000"]},"legend":null}}},
{"data":{"values":[{}]},"mark":{"type":"text","text":"New Formalism","font":"Liberation Sans","fontSize":30,"align":"left","baseline":"alphabetic","color":"black"},"encoding":{"x":{"datum":-0.5,"type":"quantitative","scale":{"domain":[-2,2],"nice":false},"axis":null},"y":{"datum":-5,"type":"quantitative","scale":{"domain":[-7,3],"nice":false},"axis":null}}},
{"data":{"values":[{}]},"mark":{"type":"text","text":"WD-WD: A=0.780; B=0.487","font":"Liberation Sans","fontSize":30,"align":"left","baseline":"alphabetic","color":"black"},"encoding":{"x":{"datum":-0.5,"type":"quantitative","scale":{"domain":[-2,2],"nice":false},"axis":null},"y":{"datum":-6,"type":"quantitative","scale":{"domain":[-7,3],"nice":false},"axis":null}}}
]},
{"width":1104,"height":369,"resolve":{"axis":{"x":"independent","y":"independent"}},
"layer":[
{"data":{"name":"curves"},"transform":[{"filter":"datum.p==2"}],"mark":{"type":"line","interpolate":"monotone","strokeWidth":2.5,"clip":true},
"encoding":{"x":{"field":"x","type":"quantitative","scale":{"domain":[-2,2],"nice":false,"zero":false},"axis":null},
"y":{"field":"y","type":"quantitative","scale":{"domain":[-7,3],"nice":false,"zero":false},"axis":{"orient":"left","values":[-6,-4,-2,0,2],"ticks":false,"labelPadding":16,"labelOffset":11,"labelExpr":"datum.value + ''","title":"LOG₁₀[a(f)/a(0)]","titlePadding":18}},
"color":{"field":"k","type":"nominal","scale":{"domain":["-2","-1.5","-1","-0.5","0","0.5","1","1.5","2"],"range":["#00ffff","#0000ff","#7fff00","#ffa500","#b03060","#ffd700","#ee82ee","#d2691e","#000000"]},"legend":null}}},
{"data":{"name":"frame"},"mark":{"type":"point","opacity":0,"size":0,"strokeWidth":0},"encoding":{"x":{"field":"x","type":"quantitative","scale":{"domain":[-2,2],"nice":false},"axis":{"orient":"bottom","values":[-2,-1,0,1,2],"labels":false,"tickSize":-18,"tickWidth":2,"title":null}},"y":{"field":"y","type":"quantitative","scale":{"domain":[-7,3],"nice":false},"axis":{"orient":"left","values":[-6,-4,-2,0,2],"labels":false,"tickSize":-18,"tickWidth":2,"title":null}}}},
{"data":{"name":"frame"},"mark":{"type":"point","opacity":0,"size":0,"strokeWidth":0},"encoding":{"x":{"field":"x","type":"quantitative","scale":{"domain":[-2,2],"nice":false},"axis":{"orient":"bottom","values":[-1.8,-1.6,-1.4,-1.2,-0.8,-0.6,-0.4,-0.2,0.2,0.4,0.6,0.8,1.2,1.4,1.6,1.8],"labels":false,"tickSize":-9,"tickWidth":1.5,"tickColor":"#444","title":null}},"y":{"field":"y","type":"quantitative","scale":{"domain":[-7,3],"nice":false},"axis":{"orient":"left","values":[-6.5,-5.5,-5,-4.5,-3.5,-3,-2.5,-1.5,-1,-0.5,0.5,1,1.5,2.5],"labels":false,"tickSize":-9,"tickWidth":1.5,"tickColor":"#444","title":null}}}},
{"data":{"name":"frame"},"mark":{"type":"point","opacity":0,"size":0,"strokeWidth":0},"encoding":{"x":{"field":"x","type":"quantitative","scale":{"domain":[-2,2],"nice":false},"axis":{"orient":"top","values":[-2,-1,0,1,2],"labels":false,"tickSize":-18,"tickWidth":2,"title":null}},"y":{"field":"y","type":"quantitative","scale":{"domain":[-7,3],"nice":false},"axis":{"orient":"right","values":[-6,-4,-2,0,2],"labels":false,"tickSize":-18,"tickWidth":2,"title":null}}}},
{"data":{"name":"frame"},"mark":{"type":"point","opacity":0,"size":0,"strokeWidth":0},"encoding":{"x":{"field":"x","type":"quantitative","scale":{"domain":[-2,2],"nice":false},"axis":{"orient":"top","values":[-1.8,-1.6,-1.4,-1.2,-0.8,-0.6,-0.4,-0.2,0.2,0.4,0.6,0.8,1.2,1.4,1.6,1.8],"labels":false,"tickSize":-9,"tickWidth":1.5,"tickColor":"#444","title":null}},"y":{"field":"y","type":"quantitative","scale":{"domain":[-7,3],"nice":false},"axis":{"orient":"right","values":[-6.5,-5.5,-5,-4.5,-3.5,-3,-2.5,-1.5,-1,-0.5,0.5,1,1.5,2.5],"labels":false,"tickSize":-9,"tickWidth":1.5,"tickColor":"#444","title":null}}}},
{"data":{"name":"pts"},"transform":[{"filter":"datum.p==2 && datum.t=='a'"}],"mark":{"type":"point","shape":"M-1,-1Q0,-0.45,1,-1Q0.45,0,1,1Q0,0.45,-1,1Q-0.45,0,-1,-1Z","filled":false,"strokeWidth":1.6,"size":121},
"encoding":{"x":{"field":"x","type":"quantitative","scale":{"domain":[-2,2],"nice":false},"axis":null},"y":{"field":"y","type":"quantitative","scale":{"domain":[-7,3],"nice":false},"axis":null},"color":{"field":"c","type":"nominal","scale":{"domain":["-2","-1.5","-1","-0.5","0","0.5","1","1.5","2"],"range":["#00ffff","#0000ff","#7fff00","#ffa500","#b03060","#ffd700","#ee82ee","#d2691e","#000000"]},"legend":null}}},
{"data":{"values":[{}]},"mark":{"type":"text","text":"New Formalism","font":"Liberation Sans","fontSize":30,"align":"left","baseline":"alphabetic","color":"black"},"encoding":{"x":{"datum":-0.5,"type":"quantitative","scale":{"domain":[-2,2],"nice":false},"axis":null},"y":{"datum":-5,"type":"quantitative","scale":{"domain":[-7,3],"nice":false},"axis":null}}},
{"data":{"values":[{}]},"mark":{"type":"text","text":"WD-PSR: A=1.3853; B=0.678","font":"Liberation Sans","fontSize":30,"align":"left","baseline":"alphabetic","color":"black"},"encoding":{"x":{"datum":-0.5,"type":"quantitative","scale":{"domain":[-2,2],"nice":false},"axis":null},"y":{"datum":-6,"type":"quantitative","scale":{"domain":[-7,3],"nice":false},"axis":null}}}
]},
{"width":1104,"height":369,"resolve":{"axis":{"x":"independent","y":"independent"}},
"layer":[
{"data":{"name":"curves"},"transform":[{"filter":"datum.p==3"}],"mark":{"type":"line","interpolate":"monotone","strokeWidth":2.5,"clip":true},
"encoding":{"x":{"field":"x","type":"quantitative","scale":{"domain":[-2,2],"nice":false,"zero":false},"axis":null},
"y":{"field":"y","type":"quantitative","scale":{"domain":[-7,3],"nice":false,"zero":false},"axis":{"orient":"left","values":[-6,-4,-2,0,2],"ticks":false,"labelPadding":16,"labelOffset":11,"labelExpr":"datum.value + ''","title":"LOG₁₀[a(f)/a(0)]","titlePadding":18}},
"color":{"field":"k","type":"nominal","scale":{"domain":["-2","-1.5","-1","-0.5","0","0.5","1","1.5","2"],"range":["#00ffff","#0000ff","#7fff00","#ffa500","#b03060","#ffd700","#ee82ee","#d2691e","#000000"]},"legend":null}}},
{"data":{"name":"frame"},"mark":{"type":"point","opacity":0,"size":0,"strokeWidth":0},"encoding":{"x":{"field":"x","type":"quantitative","scale":{"domain":[-2,2],"nice":false},"axis":{"orient":"bottom","values":[-2,-1,0,1,2],"labels":false,"tickSize":-18,"tickWidth":2,"title":null}},"y":{"field":"y","type":"quantitative","scale":{"domain":[-7,3],"nice":false},"axis":{"orient":"left","values":[-6,-4,-2,0,2],"labels":false,"tickSize":-18,"tickWidth":2,"title":null}}}},
{"data":{"name":"frame"},"mark":{"type":"point","opacity":0,"size":0,"strokeWidth":0},"encoding":{"x":{"field":"x","type":"quantitative","scale":{"domain":[-2,2],"nice":false},"axis":{"orient":"bottom","values":[-1.8,-1.6,-1.4,-1.2,-0.8,-0.6,-0.4,-0.2,0.2,0.4,0.6,0.8,1.2,1.4,1.6,1.8],"labels":false,"tickSize":-9,"tickWidth":1.5,"tickColor":"#444","title":null}},"y":{"field":"y","type":"quantitative","scale":{"domain":[-7,3],"nice":false},"axis":{"orient":"left","values":[-6.5,-5.5,-5,-4.5,-3.5,-3,-2.5,-1.5,-1,-0.5,0.5,1,1.5,2.5],"labels":false,"tickSize":-9,"tickWidth":1.5,"tickColor":"#444","title":null}}}},
{"data":{"name":"frame"},"mark":{"type":"point","opacity":0,"size":0,"strokeWidth":0},"encoding":{"x":{"field":"x","type":"quantitative","scale":{"domain":[-2,2],"nice":false},"axis":{"orient":"top","values":[-2,-1,0,1,2],"labels":false,"tickSize":-18,"tickWidth":2,"title":null}},"y":{"field":"y","type":"quantitative","scale":{"domain":[-7,3],"nice":false},"axis":{"orient":"right","values":[-6,-4,-2,0,2],"labels":false,"tickSize":-18,"tickWidth":2,"title":null}}}},
{"data":{"name":"frame"},"mark":{"type":"point","opacity":0,"size":0,"strokeWidth":0},"encoding":{"x":{"field":"x","type":"quantitative","scale":{"domain":[-2,2],"nice":false},"axis":{"orient":"top","values":[-1.8,-1.6,-1.4,-1.2,-0.8,-0.6,-0.4,-0.2,0.2,0.4,0.6,0.8,1.2,1.4,1.6,1.8],"labels":false,"tickSize":-9,"tickWidth":1.5,"tickColor":"#444","title":null}},"y":{"field":"y","type":"quantitative","scale":{"domain":[-7,3],"nice":false},"axis":{"orient":"right","values":[-6.5,-5.5,-5,-4.5,-3.5,-3,-2.5,-1.5,-1,-0.5,0.5,1,1.5,2.5],"labels":false,"tickSize":-9,"tickWidth":1.5,"tickColor":"#444","title":null}}}},
{"data":{"name":"pts"},"transform":[{"filter":"datum.p==3 && datum.t=='a'"}],"mark":{"type":"point","shape":"M-1,-1Q0,-0.45,1,-1Q0.45,0,1,1Q0,0.45,-1,1Q-0.45,0,-1,-1Z","filled":false,"strokeWidth":1.6,"size":121},
"encoding":{"x":{"field":"x","type":"quantitative","scale":{"domain":[-2,2],"nice":false},"axis":null},"y":{"field":"y","type":"quantitative","scale":{"domain":[-7,3],"nice":false},"axis":null},"color":{"field":"c","type":"nominal","scale":{"domain":["-2","-1.5","-1","-0.5","0","0.5","1","1.5","2"],"range":["#00ffff","#0000ff","#7fff00","#ffa500","#b03060","#ffd700","#ee82ee","#d2691e","#000000"]},"legend":null}}},
{"data":{"values":[{}]},"mark":{"type":"text","text":"New Formalism","font":"Liberation Sans","fontSize":30,"align":"left","baseline":"alphabetic","color":"black"},"encoding":{"x":{"datum":-0.5,"type":"quantitative","scale":{"domain":[-2,2],"nice":false},"axis":null},"y":{"datum":-5,"type":"quantitative","scale":{"domain":[-7,3],"nice":false},"axis":null}}},
{"data":{"values":[{}]},"mark":{"type":"text","text":"WD-MS: A=0.892; B=0.567","font":"Liberation Sans","fontSize":30,"align":"left","baseline":"alphabetic","color":"black"},"encoding":{"x":{"datum":-0.5,"type":"quantitative","scale":{"domain":[-2,2],"nice":false},"axis":null},"y":{"datum":-6,"type":"quantitative","scale":{"domain":[-7,3],"nice":false},"axis":null}}}
]},
{"width":1104,"height":369,"resolve":{"axis":{"x":"independent","y":"independent"}},
"layer":[
{"data":{"name":"curves"},"transform":[{"filter":"datum.p==4"}],"mark":{"type":"line","interpolate":"monotone","strokeWidth":2.5,"clip":true},
"encoding":{"x":{"field":"x","type":"quantitative","scale":{"domain":[-2,2],"nice":false,"zero":false},"axis":{"orient":"bottom","values":[-2,-1,0,1,2],"ticks":false,"labelPadding":37,"labelFlush":false,"labelExpr":"datum.value + ''","title":null}},
"y":{"field":"y","type":"quantitative","scale":{"domain":[-7,3],"nice":false,"zero":false},"axis":{"orient":"left","values":[-6,-4,-2,0,2],"ticks":false,"labelPadding":16,"labelOffset":11,"labelExpr":"datum.value + ''","title":"LOG₁₀[a(f)/a(0)]","titlePadding":18}},
"color":{"field":"k","type":"nominal","scale":{"domain":["-2","-1.5","-1","-0.5","0","0.5","1","1.5","2"],"range":["#00ffff","#0000ff","#7fff00","#ffa500","#b03060","#ffd700","#ee82ee","#d2691e","#000000"]},"legend":null}}},
{"data":{"name":"frame"},"mark":{"type":"point","opacity":0,"size":0,"strokeWidth":0},"encoding":{"x":{"field":"x","type":"quantitative","scale":{"domain":[-2,2],"nice":false},"axis":{"orient":"bottom","values":[-2,-1,0,1,2],"labels":false,"tickSize":-18,"tickWidth":2,"title":null}},"y":{"field":"y","type":"quantitative","scale":{"domain":[-7,3],"nice":false},"axis":{"orient":"left","values":[-6,-4,-2,0,2],"labels":false,"tickSize":-18,"tickWidth":2,"title":null}}}},
{"data":{"name":"frame"},"mark":{"type":"point","opacity":0,"size":0,"strokeWidth":0},"encoding":{"x":{"field":"x","type":"quantitative","scale":{"domain":[-2,2],"nice":false},"axis":{"orient":"bottom","values":[-1.8,-1.6,-1.4,-1.2,-0.8,-0.6,-0.4,-0.2,0.2,0.4,0.6,0.8,1.2,1.4,1.6,1.8],"labels":false,"tickSize":-9,"tickWidth":1.5,"tickColor":"#444","title":null}},"y":{"field":"y","type":"quantitative","scale":{"domain":[-7,3],"nice":false},"axis":{"orient":"left","values":[-6.5,-5.5,-5,-4.5,-3.5,-3,-2.5,-1.5,-1,-0.5,0.5,1,1.5,2.5],"labels":false,"tickSize":-9,"tickWidth":1.5,"tickColor":"#444","title":null}}}},
{"data":{"name":"frame"},"mark":{"type":"point","opacity":0,"size":0,"strokeWidth":0},"encoding":{"x":{"field":"x","type":"quantitative","scale":{"domain":[-2,2],"nice":false},"axis":{"orient":"top","values":[-2,-1,0,1,2],"labels":false,"tickSize":-18,"tickWidth":2,"title":null}},"y":{"field":"y","type":"quantitative","scale":{"domain":[-7,3],"nice":false},"axis":{"orient":"right","values":[-6,-4,-2,0,2],"labels":false,"tickSize":-18,"tickWidth":2,"title":null}}}},
{"data":{"name":"frame"},"mark":{"type":"point","opacity":0,"size":0,"strokeWidth":0},"encoding":{"x":{"field":"x","type":"quantitative","scale":{"domain":[-2,2],"nice":false},"axis":{"orient":"top","values":[-1.8,-1.6,-1.4,-1.2,-0.8,-0.6,-0.4,-0.2,0.2,0.4,0.6,0.8,1.2,1.4,1.6,1.8],"labels":false,"tickSize":-9,"tickWidth":1.5,"tickColor":"#444","title":null}},"y":{"field":"y","type":"quantitative","scale":{"domain":[-7,3],"nice":false},"axis":{"orient":"right","values":[-6.5,-5.5,-5,-4.5,-3.5,-3,-2.5,-1.5,-1,-0.5,0.5,1,1.5,2.5],"labels":false,"tickSize":-9,"tickWidth":1.5,"tickColor":"#444","title":null}}}},
{"data":{"name":"pts"},"transform":[{"filter":"datum.p==4 && datum.t=='c'"}],"mark":{"type":"circle","size":121,"opacity":1},
"encoding":{"x":{"field":"x","type":"quantitative","scale":{"domain":[-2,2],"nice":false},"axis":null},"y":{"field":"y","type":"quantitative","scale":{"domain":[-7,3],"nice":false},"axis":null},"color":{"field":"c","type":"nominal","scale":{"domain":["-2","-1.5","-1","-0.5","0","0.5","1","1.5","2"],"range":["#00ffff","#0000ff","#7fff00","#ffa500","#b03060","#ffd700","#ee82ee","#d2691e","#000000"]},"legend":null}}},
{"data":{"name":"pts"},"transform":[{"filter":"datum.p==4 && datum.t=='s'"}],"mark":{"type":"point","shape":"M0,-1L0.223,-0.307L0.951,-0.309L0.361,0.117L0.588,0.809L0,0.38L-0.588,0.809L-0.361,0.117L-0.951,-0.309L-0.223,-0.307Z","filled":false,"strokeWidth":1.6,"size":196},
"encoding":{"x":{"field":"x","type":"quantitative","scale":{"domain":[-2,2],"nice":false},"axis":null},"y":{"field":"y","type":"quantitative","scale":{"domain":[-7,3],"nice":false},"axis":null},"color":{"field":"c","type":"nominal","scale":{"domain":["-2","-1.5","-1","-0.5","0","0.5","1","1.5","2"],"range":["#00ffff","#0000ff","#7fff00","#ffa500","#b03060","#ffd700","#ee82ee","#d2691e","#000000"]},"legend":null}}},
{"data":{"values":[{}]},"mark":{"type":"text","text":"New Formalism","font":"Liberation Sans","fontSize":30,"align":"left","baseline":"alphabetic","color":"black"},"encoding":{"x":{"datum":-0.5,"type":"quantitative","scale":{"domain":[-2,2],"nice":false},"axis":null},"y":{"datum":-5,"type":"quantitative","scale":{"domain":[-7,3],"nice":false},"axis":null}}},
{"data":{"values":[{}]},"mark":{"type":"text","text":"Mass Transfer: A=1.; B=0.6","font":"Liberation Sans","fontSize":30,"align":"left","baseline":"alphabetic","color":"black"},"encoding":{"x":{"datum":-0.5,"type":"quantitative","scale":{"domain":[-2,2],"nice":false},"axis":null},"y":{"datum":-6,"type":"quantitative","scale":{"domain":[-7,3],"nice":false},"axis":null}}},
{"data":{"name":"leg"},"mark":{"type":"text","text":"log","font":"Liberation Serif","fontSize":28,"align":"left","baseline":"alphabetic"},"encoding":{"x":{"field":"lx","type":"quantitative","scale":{"domain":[-2,2],"nice":false},"axis":null},"y":{"field":"ly","type":"quantitative","scale":{"domain":[-7,3],"nice":false},"axis":null},"color":{"field":"k","type":"nominal","scale":{"domain":["-2","-1.5","-1","-0.5","0","0.5","1","1.5","2"],"range":["#00ffff","#0000ff","#7fff00","#ffa500","#b03060","#ffd700","#ee82ee","#d2691e","#000000"]},"legend":null}}},
{"data":{"name":"leg"},"mark":{"type":"text","text":"10","font":"Liberation Serif","fontSize":19,"align":"left","baseline":"alphabetic","dx":37,"dy":6},"encoding":{"x":{"field":"lx","type":"quantitative","scale":{"domain":[-2,2],"nice":false},"axis":null},"y":{"field":"ly","type":"quantitative","scale":{"domain":[-7,3],"nice":false},"axis":null},"color":{"field":"k","type":"nominal","scale":{"domain":["-2","-1.5","-1","-0.5","0","0.5","1","1.5","2"],"range":["#00ffff","#0000ff","#7fff00","#ffa500","#b03060","#ffd700","#ee82ee","#d2691e","#000000"]},"legend":null}}},
{"data":{"name":"leg"},"mark":{"type":"text","text":"(q","font":"Liberation Serif","fontSize":28,"align":"left","baseline":"alphabetic","dx":56},"encoding":{"x":{"field":"lx","type":"quantitative","scale":{"domain":[-2,2],"nice":false},"axis":null},"y":{"field":"ly","type":"quantitative","scale":{"domain":[-7,3],"nice":false},"axis":null},"color":{"field":"k","type":"nominal","scale":{"domain":["-2","-1.5","-1","-0.5","0","0.5","1","1.5","2"],"range":["#00ffff","#0000ff","#7fff00","#ffa500","#b03060","#ffd700","#ee82ee","#d2691e","#000000"]},"legend":null}}},
{"data":{"name":"leg"},"mark":{"type":"text","text":"ec","font":"Liberation Serif","fontSize":19,"align":"left","baseline":"alphabetic","dx":80,"dy":6},"encoding":{"x":{"field":"lx","type":"quantitative","scale":{"domain":[-2,2],"nice":false},"axis":null},"y":{"field":"ly","type":"quantitative","scale":{"domain":[-7,3],"nice":false},"axis":null},"color":{"field":"k","type":"nominal","scale":{"domain":["-2","-1.5","-1","-0.5","0","0.5","1","1.5","2"],"range":["#00ffff","#0000ff","#7fff00","#ffa500","#b03060","#ffd700","#ee82ee","#d2691e","#000000"]},"legend":null}}},
{"data":{"name":"leg"},"mark":{"type":"text","text":")","font":"Liberation Serif","fontSize":28,"align":"left","baseline":"alphabetic","dx":98},"encoding":{"x":{"field":"lx","type":"quantitative","scale":{"domain":[-2,2],"nice":false},"axis":null},"y":{"field":"ly","type":"quantitative","scale":{"domain":[-7,3],"nice":false},"axis":null},"color":{"field":"k","type":"nominal","scale":{"domain":["-2","-1.5","-1","-0.5","0","0.5","1","1.5","2"],"range":["#00ffff","#0000ff","#7fff00","#ffa500","#b03060","#ffd700","#ee82ee","#d2691e","#000000"]},"legend":null}}},
{"data":{"name":"leg"},"mark":{"type":"text","text":"=","font":"Liberation Serif","fontSize":28,"align":"left","baseline":"alphabetic","dx":124},"encoding":{"x":{"field":"lx","type":"quantitative","scale":{"domain":[-2,2],"nice":false},"axis":null},"y":{"field":"ly","type":"quantitative","scale":{"domain":[-7,3],"nice":false},"axis":null},"color":{"field":"k","type":"nominal","scale":{"domain":["-2","-1.5","-1","-0.5","0","0.5","1","1.5","2"],"range":["#00ffff","#0000ff","#7fff00","#ffa500","#b03060","#ffd700","#ee82ee","#d2691e","#000000"]},"legend":null}}},
{"data":{"name":"leg"},"mark":{"type":"text","font":"Liberation Serif","fontSize":28,"align":"left","baseline":"alphabetic","dx":157},"encoding":{"text":{"field":"v"},"x":{"field":"lx","type":"quantitative","scale":{"domain":[-2,2],"nice":false},"axis":null},"y":{"field":"ly","type":"quantitative","scale":{"domain":[-7,3],"nice":false},"axis":null},"color":{"field":"k","type":"nominal","scale":{"domain":["-2","-1.5","-1","-0.5","0","0.5","1","1.5","2"],"range":["#00ffff","#0000ff","#7fff00","#ffa500","#b03060","#ffd700","#ee82ee","#d2691e","#000000"]},"legend":null}}},
{"data":{"values":[{}]},"mark":{"type":"text","text":"LOG","font":"Liberation Serif","fontSize":43,"align":"left","baseline":"alphabetic","dx":-154,"color":"black"},"encoding":{"x":{"datum":0,"type":"quantitative","scale":{"domain":[-2,2],"nice":false},"axis":null},"y":{"datum":-10.15,"type":"quantitative","scale":{"domain":[-7,3],"nice":false},"axis":null}}},
{"data":{"values":[{}]},"mark":{"type":"text","text":"10","font":"Liberation Serif","fontSize":29,"align":"left","baseline":"alphabetic","dx":-65,"dy":7,"color":"black"},"encoding":{"x":{"datum":0,"type":"quantitative","scale":{"domain":[-2,2],"nice":false},"axis":null},"y":{"datum":-10.15,"type":"quantitative","scale":{"domain":[-7,3],"nice":false},"axis":null}}},
{"data":{"values":[{}]},"mark":{"type":"text","text":"[q=M","font":"Liberation Serif","fontSize":43,"align":"left","baseline":"alphabetic","dx":-36,"color":"black"},"encoding":{"x":{"datum":0,"type":"quantitative","scale":{"domain":[-2,2],"nice":false},"axis":null},"y":{"datum":-10.15,"type":"quantitative","scale":{"domain":[-7,3],"nice":false},"axis":null}}},
{"data":{"values":[{}]},"mark":{"type":"text","text":"c","font":"Liberation Serif","fontSize":29,"align":"left","baseline":"alphabetic","dx":62,"dy":7,"color":"black"},"encoding":{"x":{"datum":0,"type":"quantitative","scale":{"domain":[-2,2],"nice":false},"axis":null},"y":{"datum":-10.15,"type":"quantitative","scale":{"domain":[-7,3],"nice":false},"axis":null}}},
{"data":{"values":[{}]},"mark":{"type":"text","text":"/M","font":"Liberation Serif","fontSize":43,"align":"left","baseline":"alphabetic","dx":75,"color":"black"},"encoding":{"x":{"datum":0,"type":"quantitative","scale":{"domain":[-2,2],"nice":false},"axis":null},"y":{"datum":-10.15,"type":"quantitative","scale":{"domain":[-7,3],"nice":false},"axis":null}}},
{"data":{"values":[{}]},"mark":{"type":"text","text":"2","font":"Liberation Serif","fontSize":29,"align":"left","baseline":"alphabetic","dx":125,"dy":7,"color":"black"},"encoding":{"x":{"datum":0,"type":"quantitative","scale":{"domain":[-2,2],"nice":false},"axis":null},"y":{"datum":-10.15,"type":"quantitative","scale":{"domain":[-7,3],"nice":false},"axis":null}}},
{"data":{"values":[{}]},"mark":{"type":"text","text":"]","font":"Liberation Serif","fontSize":43,"align":"left","baseline":"alphabetic","dx":140,"color":"black"},"encoding":{"x":{"datum":0,"type":"quantitative","scale":{"domain":[-2,2],"nice":false},"axis":null},"y":{"datum":-10.15,"type":"quantitative","scale":{"domain":[-7,3],"nice":false},"axis":null}}}
]}
]
}
